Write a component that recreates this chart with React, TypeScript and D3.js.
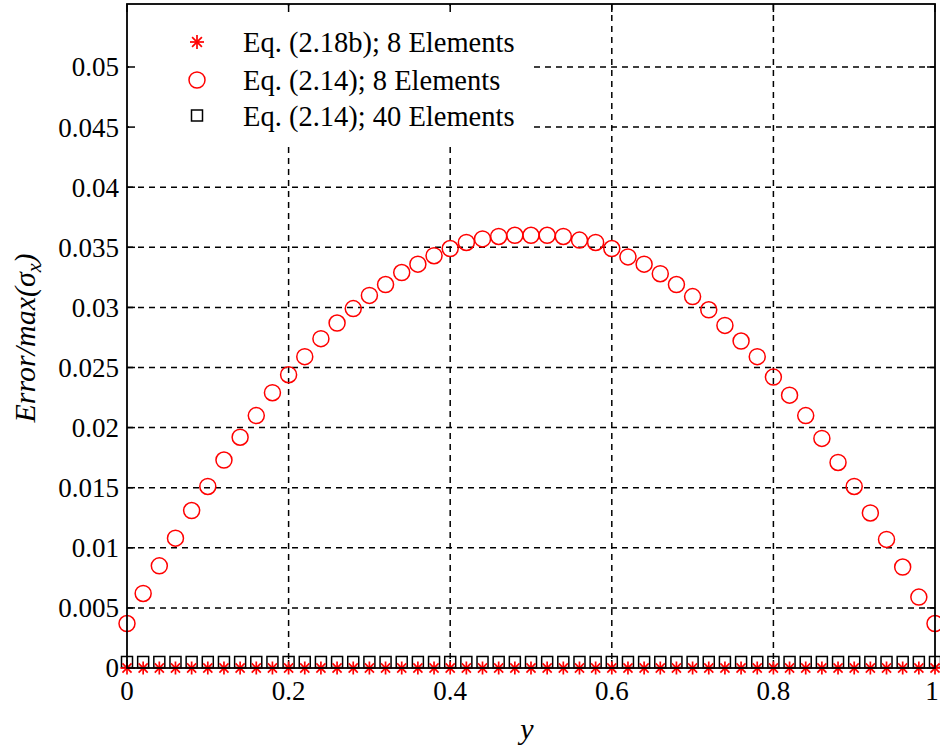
import React from 'react';
import * as d3 from 'd3';

// y positions along the section (51 sample points)
const yPos = d3.range(51).map(i => +(i * 0.02).toFixed(2));

// Eq. (2.14); 8 Elements
const err8 = [
  0.0037, 0.0062, 0.0085, 0.0108, 0.0131, 0.0151, 0.0173, 0.0192, 0.021, 0.0229,
  0.0244, 0.0259, 0.0274, 0.0287, 0.0299, 0.031, 0.0319, 0.0329, 0.0336, 0.0343,
  0.0349, 0.0354, 0.0357, 0.0359, 0.036, 0.036, 0.036, 0.0359, 0.0356, 0.0354,
  0.0349, 0.0342, 0.0336, 0.0328, 0.0319, 0.0309, 0.0298, 0.0285, 0.0272, 0.0259,
  0.0242, 0.0227, 0.021, 0.0191, 0.0171, 0.0151, 0.0129, 0.0107, 0.0084, 0.0059,
  0.0037,
];
// Eq. (2.18b); 8 Elements
const errEq218 = yPos.map(() => 0);
// Eq. (2.14); 40 Elements
const err40 = yPos.map(() => 0.0005);

const yTicks = [0, 0.005, 0.01, 0.015, 0.02, 0.025, 0.03, 0.035, 0.04, 0.045, 0.05];
const xTicks = [0, 0.2, 0.4, 0.6, 0.8, 1];
const legendLabels = ['Eq. (2.18b); 8 Elements', 'Eq. (2.14); 8 Elements', 'Eq. (2.14); 40 Elements'];

const W = 940;
const H = 747;
const left = 127;
const right = 935;
const top = 4;
const bottom = 668;
const font = 'Liberation Serif';

const Star = ({ cx, cy, r }: { cx: number; cy: number; r: number }) => {
  const d = r * 0.7;
  return (
    <g stroke="#ff0000" strokeWidth={1.7}>
      <line x1={cx - r} y1={cy} x2={cx + r} y2={cy} />
      <line x1={cx} y1={cy - r} x2={cx} y2={cy + r} />
      <line x1={cx - d} y1={cy - d} x2={cx + d} y2={cy + d} />
      <line x1={cx - d} y1={cy + d} x2={cx + d} y2={cy - d} />
    </g>
  );
};

const App = () => {
  const x = d3.scaleLinear().domain([0, 1]).range([left, right]);
  const y = d3.scaleLinear().domain([0, 0.05]).range([bottom, 67]);
  const fmt = (v: number) => (v === 0 ? '0' : String(+v.toFixed(3)));

  return (
    <svg width={W} height={H} style={{ position: 'absolute', left: 0, top: 0, background: '#fff' }}>
      {/* grid */}
      <g stroke="#000" strokeWidth={1.5} strokeDasharray="6,5">
        {xTicks.slice(1, -1).map(t => (
          <line key={'gx' + t} x1={x(t)} x2={x(t)} y1={top} y2={bottom} />
        ))}
        {yTicks.slice(1).map(t => (
          <line key={'gy' + t} x1={left} x2={right} y1={y(t)} y2={y(t)} />
        ))}
      </g>

      {/* legend background */}
      <rect x={left + 2} y={top + 2} width={404} height={136} fill="#fff" />

      {/* ticks */}
      <g stroke="#000" strokeWidth={1.5}>
        {yTicks.map(t => (
          <g key={'ty' + t}>
            <line x1={left} x2={left + 8} y1={y(t)} y2={y(t)} />
            <line x1={right} x2={right - 8} y1={y(t)} y2={y(t)} />
          </g>
        ))}
        {xTicks.map(t => (
          <g key={'tx' + t}>
            <line x1={x(t)} x2={x(t)} y1={bottom} y2={bottom - 8} />
            <line x1={x(t)} x2={x(t)} y1={top} y2={top + 8} />
          </g>
        ))}
      </g>

      {/* 40 elements: squares */}
      <g fill="none" stroke="#000" strokeWidth={1.5}>
        {yPos.map((p, i) => (
          <rect key={'s' + i} x={x(p) - 5.5} y={y(err40[i]) - 5.5} width={11} height={11} />
        ))}
      </g>
      {/* Eq. 2.18b: asterisks */}
      {yPos.map((p, i) => (
        <Star key={'a' + i} cx={x(p)} cy={y(errEq218[i])} r={6.5} />
      ))}
      {/* 8 elements: circles */}
      <g fill="none" stroke="#ff0000" strokeWidth={1.5}>
        {yPos.map((p, i) => (
          <circle key={'c' + i} cx={x(p)} cy={y(err8[i])} r={8} />
        ))}
      </g>

      {/* frame */}
      <rect x={left} y={top} width={right - left} height={bottom - top} fill="none" stroke="#000" strokeWidth={1.8} />

      {/* tick labels */}
      <g fontFamily={font} fontSize={27} fill="#000">
        {yTicks.map(t => (
          <text key={'ly' + t} x={left - 8} y={y(t)} dy="0.35em" textAnchor="end">
            {fmt(t)}
          </text>
        ))}
        {xTicks.map(t => (
          <text key={'lx' + t} x={Math.min(x(t), 932)} y={bottom + 32} textAnchor="middle">
            {fmt(t)}
          </text>
        ))}
      </g>

      {/* axis titles */}
      <text x={527} y={739} fontFamily={font} fontSize={30} fontStyle="italic" textAnchor="middle">y</text>
      <text
        transform="translate(35, 338) rotate(-90)"
        fontFamily={font}
        fontSize={30}
        fontStyle="italic"
        textAnchor="middle"
      >
        Error/max(σ<tspan fontSize={20} dy={6}>x</tspan>
        <tspan dy={-6}>)</tspan>
      </text>

      {/* legend */}
      <g fontFamily={font} fontSize={28.5} fill="#000">
        <Star cx={197} cy={42} r={7} />
        <circle cx={197} cy={80} r={8} fill="none" stroke="#ff0000" strokeWidth={1.5} />
        <rect x={191.5} y={110} width={11} height={11} fill="none" stroke="#000" strokeWidth={1.5} />
        {legendLabels.map((l, i) => (
          <text key={l} x={243} y={[42, 80, 116][i]} dy="0.35em">{l}</text>
        ))}
      </g>
    </svg>
  );
};

export default App;
